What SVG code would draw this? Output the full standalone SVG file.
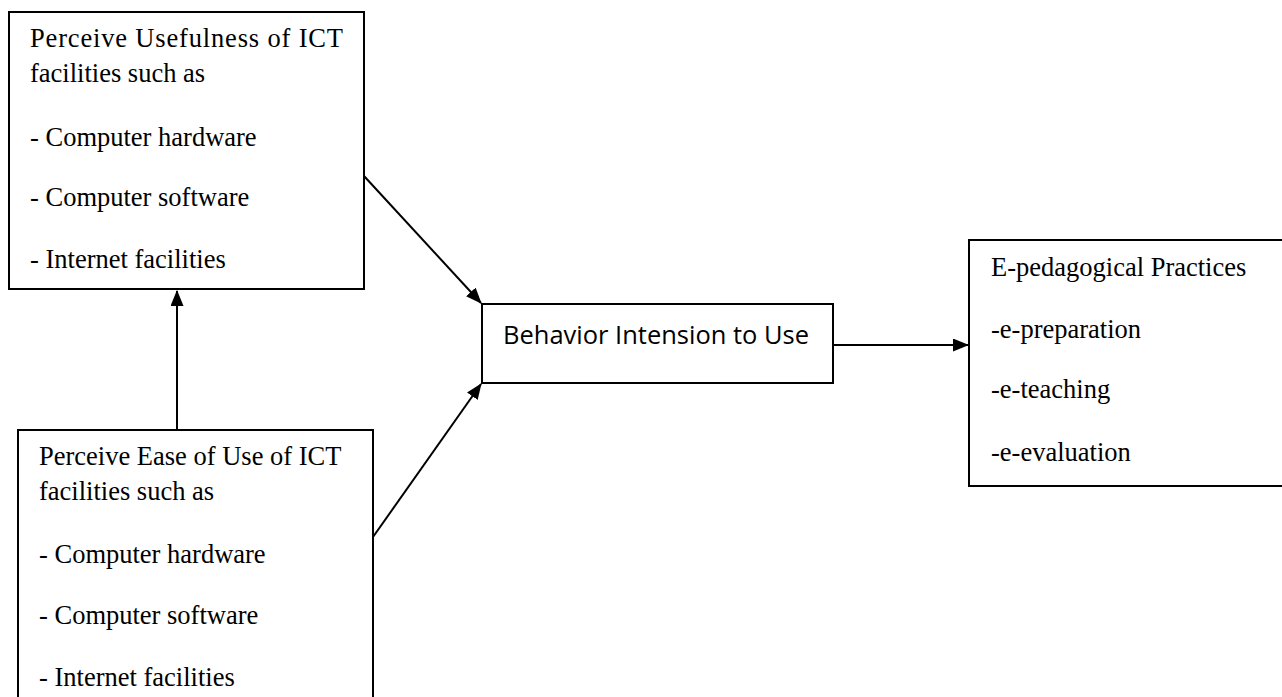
<svg xmlns="http://www.w3.org/2000/svg" width="1282" height="697" viewBox="0 0 1282 697">
<style>
.box{fill:#fff;stroke:#000;stroke-width:2}
.t{font-family:"Liberation Serif","Times New Roman",serif;font-size:26.5px;fill:#000}
.s{font-family:"Open Sans","Noto Sans",sans-serif;font-size:26px;fill:#000}
.c{stroke:#000;stroke-width:2;fill:none}
</style>
<defs>
<marker id="ah" markerWidth="16" markerHeight="13" refX="15" refY="6.5" orient="auto" markerUnits="userSpaceOnUse">
<path d="M0,0 L16,6.5 L0,13 Z" fill="#000"/>
</marker>
</defs>
<rect width="1282" height="697" fill="#fff"/>
<g id="connectors">
<line class="c" x1="177" y1="430" x2="177" y2="291" marker-end="url(#ah)"/>
<line class="c" x1="364" y1="176" x2="481" y2="303" marker-end="url(#ah)"/>
<line class="c" x1="373" y1="537" x2="481" y2="384" marker-end="url(#ah)"/>
<line class="c" x1="833" y1="345" x2="968" y2="345" marker-end="url(#ah)"/>
</g>
<g id="usefulness">
<rect class="box" x="9" y="12" width="355" height="277"/>
<text class="t" x="30" y="47" textLength="313" lengthAdjust="spacing">Perceive Usefulness of ICT</text>
<text class="t" x="30" y="82">facilities such as</text>
<text class="t" x="30" y="146">- Computer hardware</text>
<text class="t" x="30" y="206">- Computer software</text>
<text class="t" x="30" y="268">- Internet facilities</text>
</g>
<g id="ease">
<rect class="box" x="18" y="430" width="355" height="280"/>
<text class="t" x="39" y="465">Perceive Ease of Use of ICT</text>
<text class="t" x="39" y="500">facilities such as</text>
<text class="t" x="39" y="563">- Computer hardware</text>
<text class="t" x="39" y="624">- Computer software</text>
<text class="t" x="39" y="686">- Internet facilities</text>
</g>
<g id="intention">
<rect class="box" x="482" y="304" width="351" height="79"/>
<text class="s" x="503" y="344" textLength="306" lengthAdjust="spacingAndGlyphs">Behavior Intension to Use</text>
</g>
<g id="practices">
<rect class="box" x="969" y="240" width="320" height="246"/>
<text class="t" x="991" y="276">E-pedagogical Practices</text>
<text class="t" x="991" y="338">-e-preparation</text>
<text class="t" x="991" y="398">-e-teaching</text>
<text class="t" x="991" y="461">-e-evaluation</text>
</g>
</svg>
